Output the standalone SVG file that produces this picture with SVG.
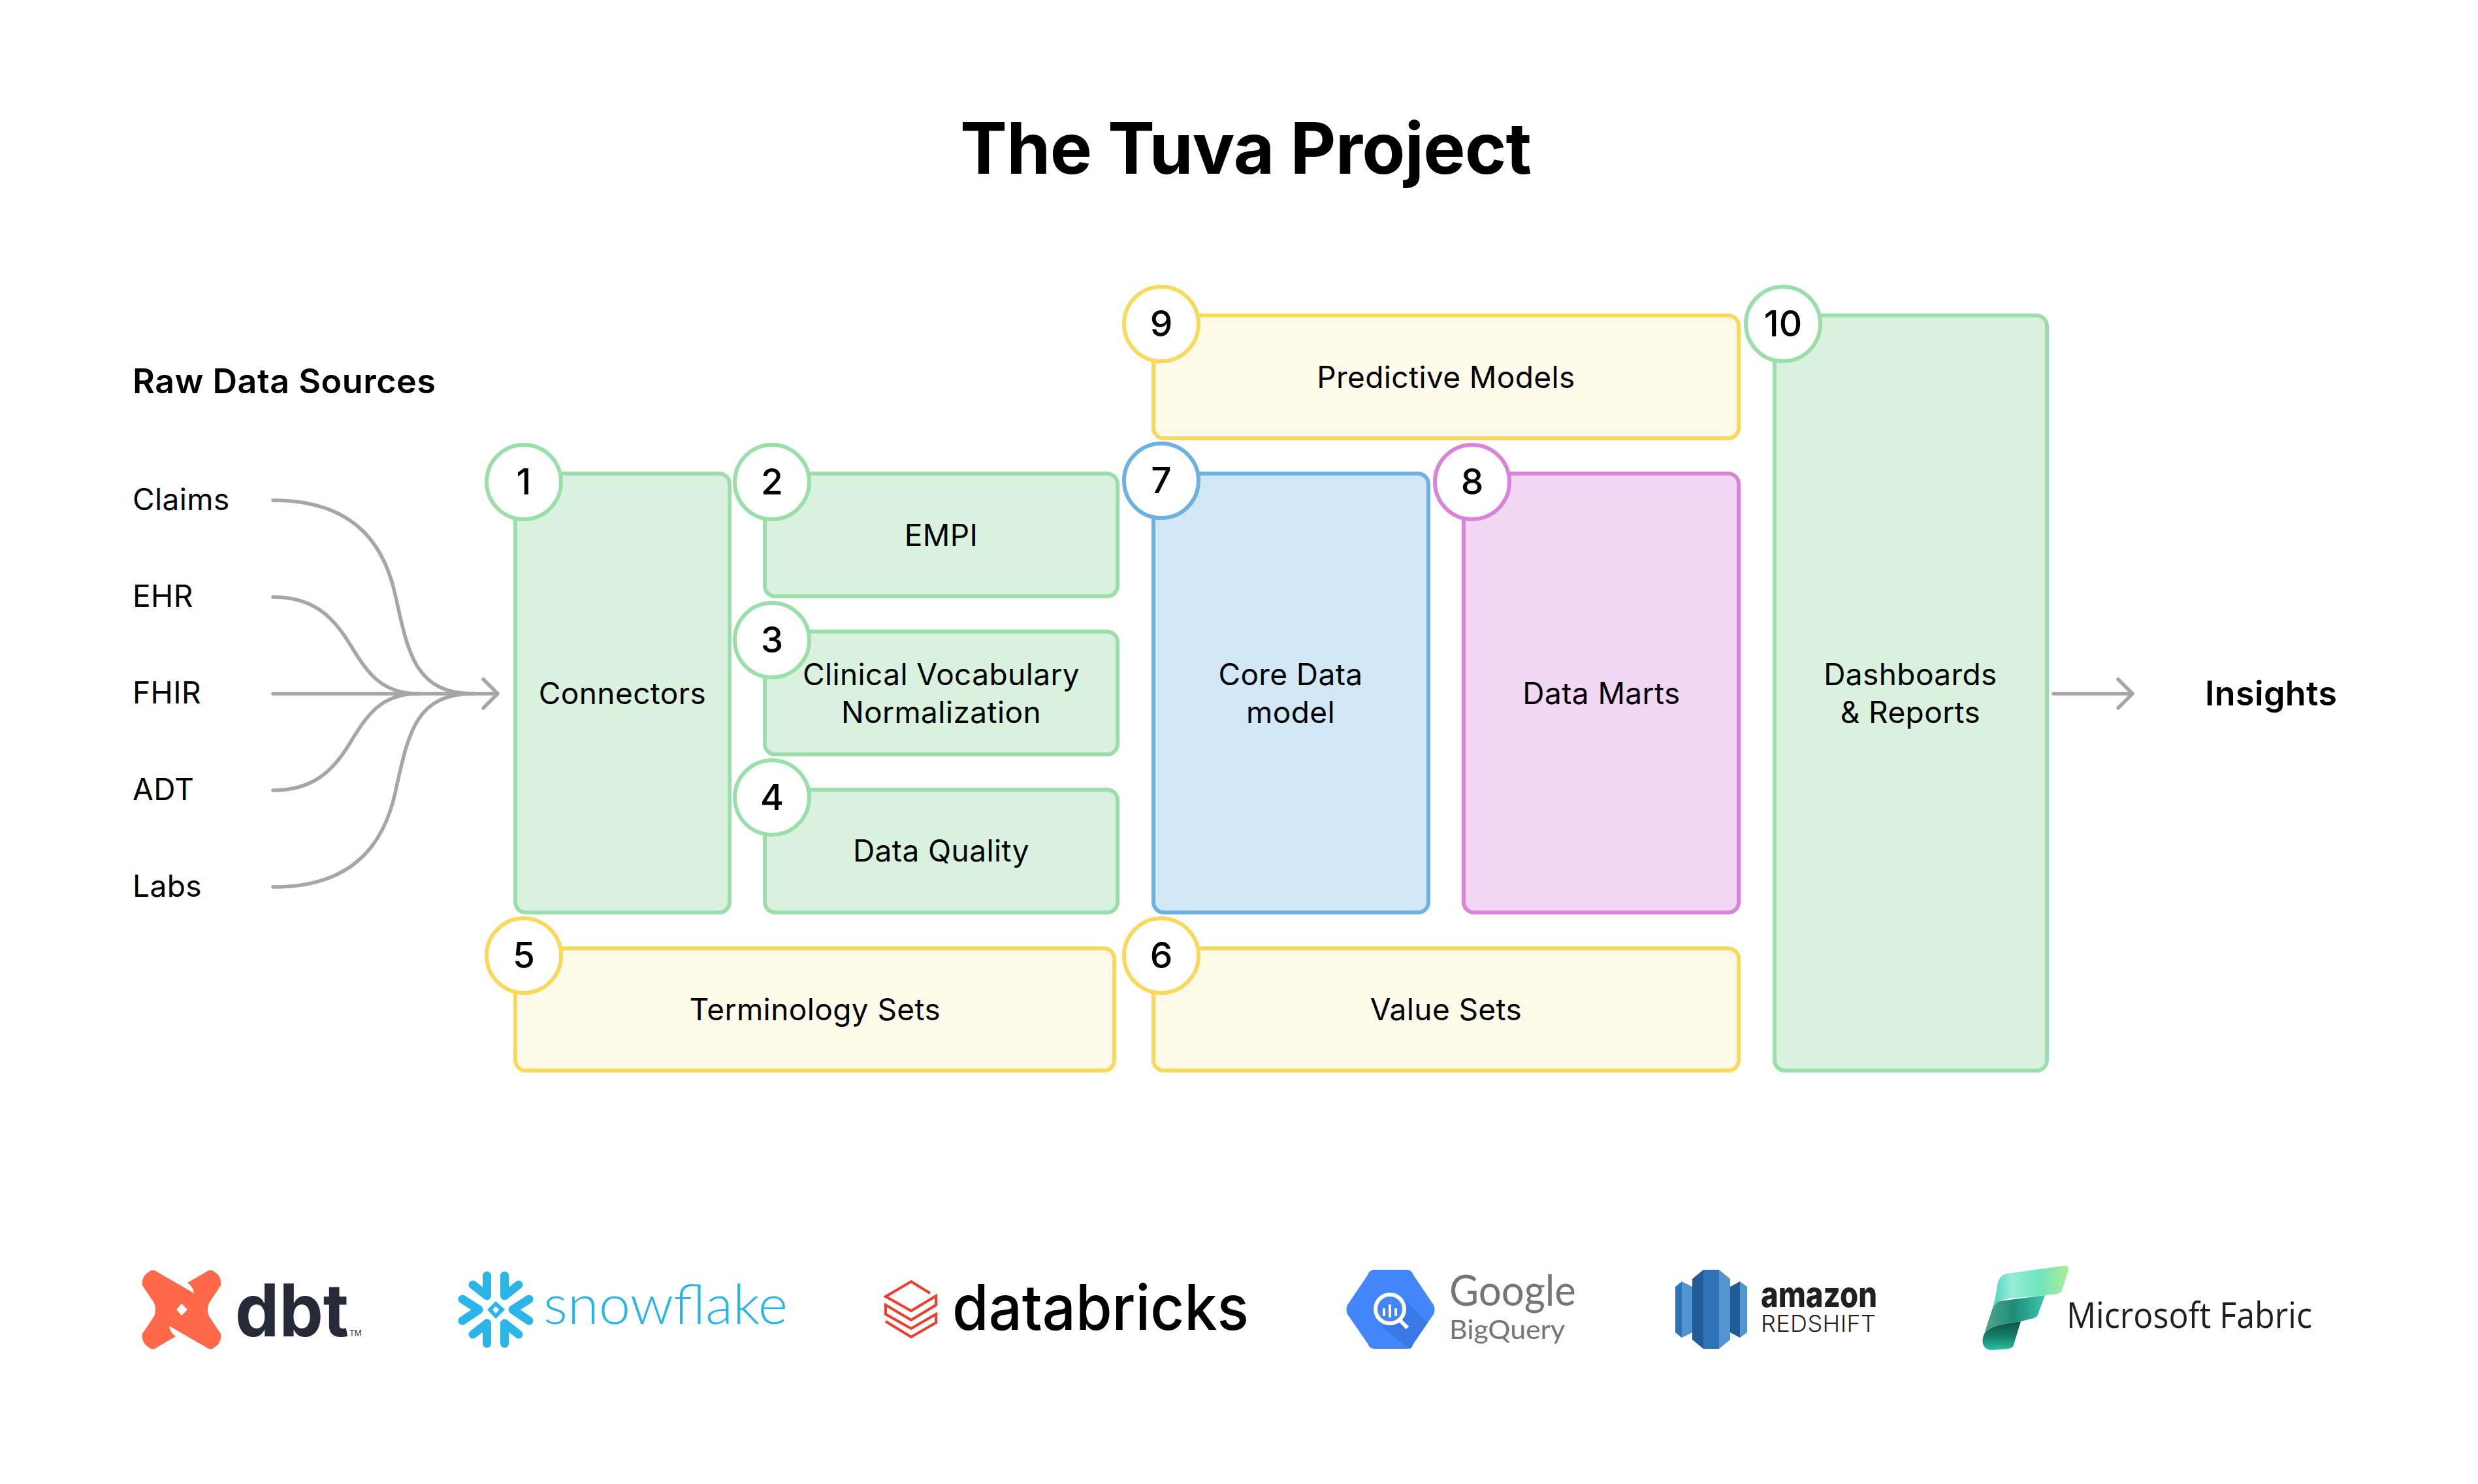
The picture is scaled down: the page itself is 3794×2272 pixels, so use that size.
<svg xmlns="http://www.w3.org/2000/svg" width="3794" height="2272" viewBox="0 0 3794 2272">
<defs>
<style>
text{font-family:"Inter","Liberation Sans",sans-serif;fill:#000}
.t{font-size:46px;letter-spacing:.4px}
.c{text-anchor:middle}
.n{font-size:55px;font-weight:500;text-anchor:middle}
.g rect,.g circle{stroke:#9ADEAA;stroke-width:6}.g rect{fill:#DAF1DD}
.y rect,.y circle{stroke:#F9D85E;stroke-width:6}.y rect{fill:#FDFAEA}
.b rect,.b circle{stroke:#6CB1E1;stroke-width:6}.b rect{fill:#D2E8F7}
.p rect,.p circle{stroke:#D983D9;stroke-width:6}.p rect{fill:#F1D7F2}
circle{fill:#fff}
#connectors path{fill:none;stroke:#A6A6A6;stroke-width:5.5;stroke-linecap:round;stroke-linejoin:round}
.s{fill:none;stroke:#29B5E8;stroke-width:13;stroke-linecap:round;stroke-linejoin:round}
</style>
<linearGradient id="f1" x1="0" y1="0" x2="1" y2="0"><stop offset="0" stop-color="#4FD6BC"/><stop offset=".25" stop-color="#9AEBD8"/><stop offset=".6" stop-color="#6CE6BE"/><stop offset="1" stop-color="#AEEB95"/></linearGradient>
<linearGradient id="f2" x1="0" y1="0" x2="1" y2="0"><stop offset="0" stop-color="#5AA68E"/><stop offset=".5" stop-color="#1E8C78"/><stop offset="1" stop-color="#3CC7AA"/></linearGradient>
<linearGradient id="f3" x1="0" y1="0" x2="0" y2="1"><stop offset="0" stop-color="#0B5548"/><stop offset=".5" stop-color="#157A68"/><stop offset="1" stop-color="#2DC0A2"/></linearGradient>
</defs>
<rect width="3794" height="2272" fill="#fff"/>
<text id="title" x="1470" y="266" font-size="108" font-weight="700" textLength="875">The Tuva Project</text>
<text id="raw-title" x="203" y="602" font-size="52" font-weight="600" textLength="464">Raw Data Sources</text>
<g id="sources" class="t">
<text x="203" y="781">Claims</text>
<text x="203" y="929">EHR</text>
<text x="203" y="1077">FHIR</text>
<text x="203" y="1225">ADT</text>
<text x="203" y="1373">Labs</text>
</g>
<g id="connectors">
<path d="M418 766C530 766 585 820 605 910C625 1000 635 1062 725 1062"/>
<path d="M418 914C480 914 510 945 533 982C560 1025 580 1062 640 1062"/>
<path d="M418 1062H760"/>
<path d="M418 1210C480 1210 510 1179 533 1142C560 1099 580 1062 640 1062"/>
<path d="M418 1358C530 1358 585 1304 605 1214C625 1124 635 1062 725 1062"/>
<path d="M740 1040L762 1062L740 1084"/>
<path d="M3144 1062H3265M3243 1040L3265 1062L3243 1084"/>
</g>
<g id="node-1" class="g"><rect x="789" y="725" width="328" height="672" rx="16"/><circle cx="802" cy="738" r="57"/><text x="802" y="757" class="n">1</text><text x="953" y="1078" class="t c">Connectors</text></g>
<g id="node-2" class="g"><rect x="1171" y="725" width="540" height="188" rx="16"/><circle cx="1182" cy="738" r="57"/><text x="1182" y="757" class="n">2</text><text x="1441" y="836" class="t c">EMPI</text></g>
<g id="node-3" class="g"><rect x="1171" y="967" width="540" height="188" rx="16"/><circle cx="1182" cy="980" r="57"/><text x="1182" y="999" class="n">3</text><text x="1441" y="1049" class="t c">Clinical Vocabulary</text><text x="1441" y="1107" class="t c">Normalization</text></g>
<g id="node-4" class="g"><rect x="1171" y="1209" width="540" height="188" rx="16"/><circle cx="1182" cy="1221" r="57"/><text x="1182" y="1240" class="n">4</text><text x="1441" y="1319" class="t c">Data Quality</text></g>
<g id="node-5" class="y"><rect x="789" y="1452" width="917" height="187" rx="16"/><circle cx="802" cy="1463" r="57"/><text x="802" y="1482" class="n">5</text><text x="1248" y="1562" class="t c">Terminology Sets</text></g>
<g id="node-6" class="y"><rect x="1766" y="1452" width="896" height="187" rx="16"/><circle cx="1778" cy="1463" r="57"/><text x="1778" y="1482" class="n">6</text><text x="2214" y="1562" class="t c">Value Sets</text></g>
<g id="node-7" class="b"><rect x="1766" y="725" width="421" height="672" rx="16"/><circle cx="1778" cy="736" r="57"/><text x="1778" y="755" class="n">7</text><text x="1976" y="1049" class="t c">Core Data</text><text x="1976" y="1107" class="t c">model</text></g>
<g id="node-8" class="p"><rect x="2241" y="725" width="421" height="672" rx="16"/><circle cx="2254" cy="738" r="57"/><text x="2254" y="757" class="n">8</text><text x="2452" y="1078" class="t c">Data Marts</text></g>
<g id="node-9" class="y"><rect x="1766" y="483" width="896" height="188" rx="16"/><circle cx="1778" cy="496" r="57"/><text x="1778" y="515" class="n">9</text><text x="2214" y="594" class="t c">Predictive Models</text></g>
<g id="node-10" class="g"><rect x="2717" y="483" width="417" height="1156" rx="16"/><circle cx="2730" cy="496" r="57"/><text x="2730" y="515" class="n">10</text><text x="2925" y="1049" class="t c">Dashboards</text><text x="2925" y="1107" class="t c">&amp; Reports</text></g>
<text id="insights" x="3376" y="1080" font-size="52" font-weight="600" textLength="202">Insights</text>
<g id="logo-dbt">
<path fill="#FF694A" d="M240 1947L297 1980Q296 1970 287 1964L316 1947Q322 1942 328 1947Q340 1954 338 1968L320 1995Q316 2005 320 2015L338 2042Q340 2056 328 2063Q322 2068 316 2063L259 2030Q260 2040 269 2046L240 2063Q234 2068 228 2063Q216 2056 218 2042L236 2015Q240 2005 236 1995L218 1968Q216 1954 228 1947Q234 1942 240 1947Z"/>
<path fill="#fff" d="M278 1996L287 2005L278 2014L270 2005Z"/>
<text x="360" y="2046" font-size="112" font-weight="700" style="fill:#262A38" textLength="174" lengthAdjust="spacingAndGlyphs">dbt</text>
<text x="535" y="2045" font-size="12" style="fill:#262A38">TM</text>
</g>
<g id="logo-snowflake">
<path class="s" d="M745.5 1953V1984L724 1967M772.5 1953V1984L794 1967M745.5 2057V2026L724 2043M772.5 2057V2026L794 2043M708 1989L733 2005L708 2022M810 1989L785 2005L810 2022"/>
<path fill="#29B5E8" fill-rule="evenodd" d="M759 1992L773 2005L759 2019L746 2005ZM759 2000L754 2005L759 2011L764 2005Z"/>
<text x="832" y="2027" font-size="84" font-weight="300" style="font-family:Lato,'Liberation Sans',sans-serif;fill:#29B5E8" textLength="374" lengthAdjust="spacingAndGlyphs">snowflake</text>
</g>
<g id="logo-databricks">
<path fill="none" stroke="#EE3D2C" stroke-width="4" d="M1424 1980L1395 1962L1356 1985L1395 2007L1433 1984V1998L1395 2021L1356 1998V2012L1395 2034L1433 2012V2025L1395 2047L1356 2023"/>
<text x="1458" y="2036" font-size="96" font-weight="550" textLength="454" lengthAdjust="spacingAndGlyphs">databricks</text>
</g>
<g id="logo-bigquery">
<path fill="#4386FA" d="M2094 1952Q2097 1944 2104 1944H2154Q2161 1944 2164 1952L2195 1998Q2198 2005 2195 2012L2164 2057Q2161 2065 2154 2065H2104Q2097 2065 2094 2057L2063 2012Q2060 2005 2063 1998Z"/>
<path fill="#3B78E7" d="M2151 1990L2186 2025L2164 2057Q2161 2065 2158 2065L2116 2032Z"/>
<circle cx="2128" cy="2004" r="22" style="fill:#4386FA" stroke="#fff" stroke-width="6"/>
<path stroke="#fff" stroke-width="6" fill="none" d="M2144 2022L2155 2033"/>
<path stroke="#fff" stroke-width="4" fill="none" d="M2119 2003V2015M2128 1997V2017M2137 2003V2015"/>
<text x="2219" y="1999" font-size="65" style="font-family:Lato,'Liberation Sans',sans-serif;fill:#757575" textLength="194" lengthAdjust="spacingAndGlyphs">Google</text>
<text x="2219" y="2050" font-size="41" style="font-family:Lato,'Liberation Sans',sans-serif;fill:#757575" textLength="177" lengthAdjust="spacingAndGlyphs">BigQuery</text>
</g>
<g id="logo-redshift">
<path fill="#205B98" d="M2591 1958L2608 1944V2065L2591 2051Z"/>
<path fill="#2E73B8" d="M2608 1944H2632V2065H2608Z"/>
<path fill="#5294CF" d="M2632 1944L2649 1958V2051L2632 2065Z"/>
<path fill="#2E73B8" d="M2565 1970L2575 1962V2048L2565 2040Z"/>
<path fill="#5294CF" d="M2575 1962L2591 1970V2040L2575 2048Z"/>
<path fill="#205B98" d="M2649 1970L2664 1962V2048L2649 2040Z"/>
<path fill="#5294CF" d="M2664 1962L2675 1970V2040L2664 2048Z"/>
<text x="2696" y="2001" font-size="54" font-weight="800" style="fill:#231F20" textLength="178" lengthAdjust="spacingAndGlyphs">amazon</text>
<text x="2696" y="2039" font-size="36" font-weight="300" style="fill:#231F20" textLength="176">REDSHIFT</text>
</g>
<g id="logo-fabric">
<path fill="url(#f3)" d="M3094 2023C3065 2027 3040 2030 3036 2048C3034 2058 3038 2067 3050 2067L3075 2065Q3083 2064 3084 2056Z"/>
<path fill="url(#f2)" d="M3131 1983L3054 1993L3036 2048C3040 2030 3065 2027 3094 2023L3114 2018Q3120 2016 3121 2010Z"/>
<path fill="url(#f1)" d="M3072 1950L3160 1938Q3168 1936 3167 1945L3157 1975Q3156 1980 3150 1981L3100 1986C3075 1988 3056 1988 3052 2004L3058 1968Q3060 1953 3072 1950Z"/>
<text x="3164" y="2033" font-size="54" style="font-family:'Open Sans','Liberation Sans',sans-serif;fill:#1f1f1f" textLength="376" lengthAdjust="spacingAndGlyphs">Microsoft Fabric</text>
</g>
</svg>
